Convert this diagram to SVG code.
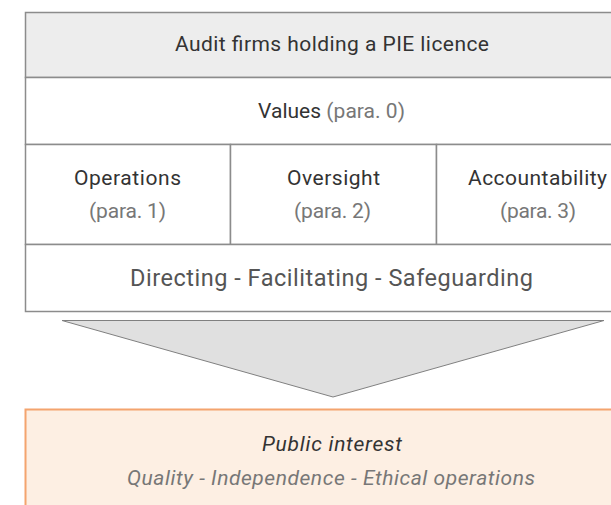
<svg xmlns="http://www.w3.org/2000/svg" width="611" height="505" viewBox="0 0 611 505">
  <style>
    .cell { fill: #ffffff; stroke: #8c8c8c; stroke-width: 1.5; }
    .head { fill: #ededed; stroke: #8c8c8c; stroke-width: 1.5; }
    .t { font-family: Roboto, "Liberation Sans", sans-serif; font-size: 21px; fill: #333333; text-anchor: middle; }
    .sub { fill: #777777; }
    .big { font-size: 23.5px; fill: #555555; }
    .it { font-style: italic; }
  </style>
  <rect width="611" height="505" fill="#ffffff"/>

  <g id="header">
    <rect class="head" x="25.5" y="12.5" width="617" height="65"/>
    <text class="t" x="332" y="51" textLength="314">Audit firms holding a PIE licence</text>
  </g>

  <g id="values">
    <rect class="cell" x="25.5" y="77.5" width="617" height="67"/>
    <text class="t" x="331.5" y="118" textLength="147">Values <tspan class="sub">(para. 0)</tspan></text>
  </g>

  <g id="operations">
    <rect class="cell" x="25.5" y="144.5" width="205" height="100"/>
    <text class="t" x="127.5" y="185" textLength="107">Operations</text>
    <text class="t sub" x="127.5" y="218" textLength="77">(para. 1)</text>
  </g>

  <g id="oversight">
    <rect class="cell" x="230.5" y="144.5" width="206" height="100"/>
    <text class="t" x="333.5" y="185" textLength="93">Oversight</text>
    <text class="t sub" x="332.5" y="218" textLength="77">(para. 2)</text>
  </g>

  <g id="accountability">
    <rect class="cell" x="436.5" y="144.5" width="206" height="100"/>
    <text class="t" x="537.5" y="185" textLength="139">Accountability</text>
    <text class="t sub" x="538" y="218" textLength="76">(para. 3)</text>
  </g>

  <g id="roles">
    <rect class="cell" x="25.5" y="244.5" width="617" height="67"/>
    <text class="t big" x="331.5" y="286" textLength="403">Directing - Facilitating - Safeguarding</text>
  </g>

  <g id="connectors">
    <polygon points="62,320.5 604,320.5 333,397" fill="#e0e0e0" stroke="#808080" stroke-width="1"/>
  </g>

  <g id="public-interest">
    <rect x="25.5" y="409.5" width="617" height="110" fill="#fdefe3" stroke="#f4a46e" stroke-width="2"/>
    <text class="t it" x="332" y="451" textLength="140">Public interest</text>
    <text class="t it sub" x="331" y="485" textLength="408">Quality - Independence - Ethical operations</text>
  </g>
</svg>
